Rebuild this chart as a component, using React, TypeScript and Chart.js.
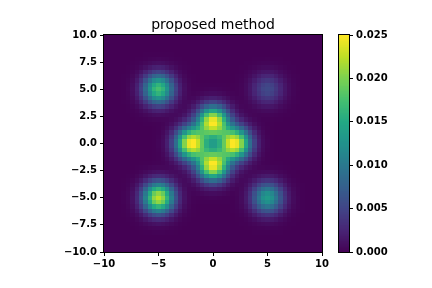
import { useEffect, useRef } from "react";
import { Chart, registerables } from "chart.js";

Chart.register(...registerables);

// ---- data ----
const chartTitle = "proposed method";
const xTickValues = [-10, -5, 0, 5, 10];
const yTickValues = [-10, -7.5, -5, -2.5, 0, 2.5, 5, 7.5, 10];
const colorbarTicks = [0, 0.005, 0.01, 0.015, 0.02, 0.025];
const extentMin = -10;
const extentMax = 10;
const gridSize = 50;
const valueMin = 0;
const valueMax = 0.025;

// density components (bump centres, peak heights, spread)
const bumpX = [0, 0, 2, -2, -5, 5, -5, 5];
const bumpY = [2, -2, 0, 0, 5, 5, -5, -5];
const bumpPeak = [0.0245, 0.0245, 0.0245, 0.0245, 0.0175, 0.0055, 0.0225, 0.0135];
const bumpSigma = [1, 1, 1, 1, 1, 1, 1, 1];

// viridis colormap stops
const viridisStops: number[][] = [
  [68, 1, 84],
  [72, 36, 117],
  [65, 68, 135],
  [53, 95, 141],
  [42, 120, 142],
  [33, 145, 140],
  [34, 168, 132],
  [68, 191, 112],
  [122, 209, 81],
  [189, 223, 38],
  [253, 231, 37],
];

function viridis(t: number): string {
  const tt = Math.max(0, Math.min(1, t));
  const pos = tt * (viridisStops.length - 1);
  const i = Math.min(Math.floor(pos), viridisStops.length - 2);
  const f = pos - i;
  const a = viridisStops[i];
  const b = viridisStops[i + 1];
  const r = Math.round(a[0] + (b[0] - a[0]) * f);
  const g = Math.round(a[1] + (b[1] - a[1]) * f);
  const bl = Math.round(a[2] + (b[2] - a[2]) * f);
  return `rgb(${r},${g},${bl})`;
}

const cellSize = (extentMax - extentMin) / gridSize;
const cells: { x0: number; x1: number; y0: number; y1: number; v: number }[] = [];
for (let j = 0; j < gridSize; j++) {
  for (let i = 0; i < gridSize; i++) {
    const cx = extentMin + (i + 0.5) * cellSize;
    const cy = extentMin + (j + 0.5) * cellSize;
    let v = 0;
    for (let k = 0; k < bumpX.length; k++) {
      const dx = cx - bumpX[k];
      const dy = cy - bumpY[k];
      const s = bumpSigma[k];
      v += bumpPeak[k] * Math.exp(-(dx * dx + dy * dy) / (2 * s * s));
    }
    cells.push({
      x0: extentMin + i * cellSize,
      x1: extentMin + (i + 1) * cellSize,
      y0: extentMin + j * cellSize,
      y1: extentMin + (j + 1) * cellSize,
      v,
    });
  }
}

const FONT = "DejaVu Sans";
const tickFont = { family: FONT, size: 10, weight: "bold" as const };

function fmtNum(v: number, digits: number): string {
  const s = Math.abs(v).toFixed(digits);
  return v < 0 ? "\u2212" + s : s;
}

const heatmapPlugin = {
  id: "heatmap",
  beforeDatasetsDraw(chart: any) {
    const { ctx, scales } = chart;
    const xs = scales.x;
    const ys = scales.y;
    ctx.save();
    for (const c of cells) {
      const px0 = Math.round(xs.getPixelForValue(c.x0));
      const px1 = Math.round(xs.getPixelForValue(c.x1));
      const py0 = Math.round(ys.getPixelForValue(c.y1));
      const py1 = Math.round(ys.getPixelForValue(c.y0));
      ctx.fillStyle = viridis((c.v - valueMin) / (valueMax - valueMin));
      ctx.fillRect(px0, py0, px1 - px0, py1 - py0);
    }
    ctx.restore();
  },
  afterDraw(chart: any) {
    const { ctx, chartArea } = chart;
    ctx.save();
    ctx.strokeStyle = "#000";
    ctx.lineWidth = 1;
    ctx.strokeRect(
      chartArea.left - 0.5,
      chartArea.top - 0.5,
      chartArea.right - chartArea.left + 1,
      chartArea.bottom - chartArea.top + 1
    );
    ctx.fillStyle = "#000";
    ctx.font = `14px "${FONT}"`;
    ctx.textAlign = "center";
    ctx.textBaseline = "alphabetic";
    ctx.fillText(chartTitle, (chartArea.left + chartArea.right) / 2, 29);
    ctx.restore();
  },
};

const colorbarPlugin = {
  id: "colorbarfill",
  beforeDatasetsDraw(chart: any) {
    const { ctx, chartArea, scales } = chart;
    const ys = scales.y;
    const steps = 256;
    ctx.save();
    for (let k = 0; k < steps; k++) {
      const v0 = valueMin + (k / steps) * (valueMax - valueMin);
      const v1 = valueMin + ((k + 1) / steps) * (valueMax - valueMin);
      const p0 = ys.getPixelForValue(v0);
      const p1 = ys.getPixelForValue(v1);
      ctx.fillStyle = viridis((k + 0.5) / steps);
      ctx.fillRect(chartArea.left, Math.floor(p1), chartArea.right - chartArea.left, Math.ceil(p0) - Math.floor(p1));
    }
    ctx.restore();
  },
  afterDraw(chart: any) {
    const { ctx, chartArea } = chart;
    ctx.save();
    ctx.strokeStyle = "#000";
    ctx.lineWidth = 1;
    ctx.strokeRect(
      chartArea.left - 0.5,
      chartArea.top - 0.5,
      chartArea.right - chartArea.left + 1,
      chartArea.bottom - chartArea.top + 1
    );
    ctx.restore();
  },
};

export default function App() {
  const mainRef = useRef<HTMLCanvasElement | null>(null);
  const cbRef = useRef<HTMLCanvasElement | null>(null);

  useEffect(() => {
    if (!mainRef.current || !cbRef.current) return;
    const axisCommon = {
      grid: {
        display: true,
        drawOnChartArea: false,
        drawTicks: true,
        tickLength: 4,
        color: "#000",
        tickColor: "#000",
      },
      border: { display: false },
    };
    const main = new Chart(mainRef.current, {
      type: "scatter",
      data: { datasets: [] },
      options: {
        animation: false,
        responsive: false,
        events: [],
        layout: { padding: { left: 0, right: 110, top: 35, bottom: 0 } },
        plugins: { legend: { display: false }, tooltip: { enabled: false }, title: { display: false } },
        scales: {
          x: {
            type: "linear",
            min: extentMin,
            max: extentMax,
            ...axisCommon,
            afterFit: (s: any) => {
              s.height = 36;
            },
            afterBuildTicks: (s: any) => {
              s.ticks = xTickValues.map((v) => ({ value: v }));
            },
            ticks: {
              font: tickFont,
              color: "#000",
              padding: 2,
              maxRotation: 0,
              autoSkip: false,
              callback: (v: any) => fmtNum(Number(v), 0),
            },
          },
          y: {
            type: "linear",
            min: extentMin,
            max: extentMax,
            ...axisCommon,
            afterFit: (s: any) => {
              s.width = 104;
            },
            afterBuildTicks: (s: any) => {
              s.ticks = yTickValues.map((v) => ({ value: v }));
            },
            ticks: {
              font: tickFont,
              color: "#000",
              padding: 3,
              autoSkip: false,
              callback: (v: any) => fmtNum(Number(v), 1),
            },
          },
        },
      },
      plugins: [heatmapPlugin],
    } as any);

    const cb = new Chart(cbRef.current, {
      type: "scatter",
      data: { datasets: [] },
      options: {
        animation: false,
        responsive: false,
        events: [],
        layout: { padding: { left: 339, right: 0, top: 35, bottom: 36 } },
        plugins: { legend: { display: false }, tooltip: { enabled: false }, title: { display: false } },
        scales: {
          x: { type: "linear", display: false, min: 0, max: 1 },
          y: {
            type: "linear",
            position: "right",
            min: valueMin,
            max: valueMax,
            ...axisCommon,
            afterFit: (s: any) => {
              s.width = 83;
            },
            afterBuildTicks: (s: any) => {
              s.ticks = colorbarTicks.map((v) => ({ value: v }));
            },
            ticks: {
              font: tickFont,
              color: "#000",
              padding: 3,
              autoSkip: false,
              callback: (v: any) => Number(v).toFixed(3),
            },
          },
        },
      },
      plugins: [colorbarPlugin],
    } as any);

    return () => {
      main.destroy();
      cb.destroy();
    };
  }, []);

  return (
    <div style={{ position: "fixed", left: 0, top: 0, width: 432, height: 288, background: "#fff" }}>
      <canvas ref={mainRef} width={432} height={288} style={{ position: "absolute", left: 0, top: 0, width: 432, height: 288 }} />
      <canvas ref={cbRef} width={432} height={288} style={{ position: "absolute", left: 0, top: 0, width: 432, height: 288 }} />
    </div>
  );
}
